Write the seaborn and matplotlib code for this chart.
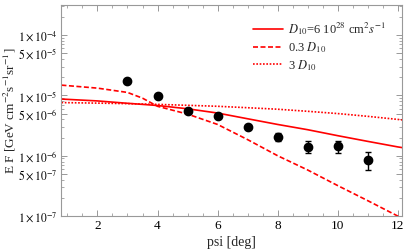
import numpy as np
import pandas as pd
import matplotlib
matplotlib.use("Agg")
import matplotlib.pyplot as plt
import matplotlib.ticker as mticker
import seaborn as sns

# data points (psi in deg, E F in GeV cm^-2 s^-1 sr^-1)
psi_pts = [3, 4, 5, 6, 7, 8, 9, 10, 11]
ef_pts = [1.75e-5, 9.6e-6, 5.6e-6, 4.6e-6, 3.0e-6, 2.07e-6, 1.41e-6, 1.45e-6, 8.6e-7]
ef_err = [1.0e-6, 6e-7, 3e-7, 2.5e-7, 2.5e-7, 3.0e-7, 3.2e-7, 3.2e-7, 2.8e-7]

# model curves
psi_grid = [0.8, 2, 3, 3.5, 4, 5, 6, 7, 8, 9, 10, 11, 12, 12.2]
ef_d10 = [8.7e-6, 8.1e-6, 7.4e-6, 7.1e-6, 6.8e-6, 6.0e-6, 5.1e-6, 4.1e-6, 3.3e-6,
          2.7e-6, 2.15e-6, 1.73e-6, 1.4e-6, 1.35e-6]
ef_03d10 = [1.48e-5, 1.32e-5, 1.12e-5, 9.0e-6, 6.6e-6, 4.9e-6, 3.3e-6, 1.85e-6, 1.0e-6,
            5.8e-7, 3.2e-7, 1.8e-7, 1.0e-7, 0.88e-7]
ef_3d10 = [7.6e-6, 7.45e-6, 7.3e-6, 7.2e-6, 7.1e-6, 6.85e-6, 6.6e-6, 6.25e-6, 5.9e-6,
           5.45e-6, 5.0e-6, 4.5e-6, 4.0e-6, 3.9e-6]

labels = [r"$D_{10}$=6 10$^{28}$ cm$^2$$s^{-1}$", r"0.3 $D_{10}$", r"3 $D_{10}$"]

sns.set_style("ticks")
plt.rcParams['font.family'] = ['Liberation Serif', 'DejaVu Serif']
plt.rcParams['mathtext.fontset'] = 'stix'

fig = plt.figure(figsize=(4.05, 2.49), dpi=100)
ax = fig.add_axes([0.151, 0.1325, 0.842, 0.8455])

curves = pd.DataFrame({
    'psi': psi_grid * 3,
    'ef': ef_d10 + ef_03d10 + ef_3d10,
    'model': [labels[0]] * len(psi_grid) + [labels[1]] * len(psi_grid) + [labels[2]] * len(psi_grid),
})
sns.lineplot(data=curves, x='psi', y='ef', hue='model', style='model',
             palette=['#ff0000'] * 3, dashes=[(None, None), (3, 1.5), (1, 1)],
             linewidth=1.2, ax=ax, legend=True, sort=False)

ax.errorbar(psi_pts, ef_pts, yerr=ef_err, fmt='o', color='black', ms=6,
            elinewidth=1, capsize=2, capthick=1, zorder=5)

ax.set_yscale('log')
ax.set_xlim(0.79, 12.15)
ax.set_ylim(1e-7, 3.1e-4)

ax.xaxis.set_major_locator(mticker.MultipleLocator(2))
ax.xaxis.set_minor_locator(mticker.MultipleLocator(0.5))
ax.yaxis.set_major_locator(mticker.FixedLocator([1e-7, 5e-7, 1e-6, 5e-6, 1e-5, 5e-5, 1e-4]))
ax.yaxis.set_minor_locator(mticker.LogLocator(base=10, subs=np.arange(2, 10)))
ax.yaxis.set_minor_formatter(mticker.NullFormatter())


def sci_fmt(v, pos):
    e = int(np.floor(np.log10(v) + 1e-9))
    m = v / 10 ** e
    return r"$%d\times10^{%d}$" % (round(m), e)


ax.yaxis.set_major_formatter(mticker.FuncFormatter(sci_fmt))

ax.tick_params(which='both', direction='in', top=True, right=True, colors='#888888',
               labelcolor='black')
ax.tick_params(axis='x', labelsize=9.5)
ax.tick_params(axis='y', labelsize=8.3)
ax.tick_params(which='major', length=4, width=0.6, pad=3)
ax.tick_params(which='minor', length=2, width=0.5)
for s in ax.spines.values():
    s.set_color('#999999')
    s.set_linewidth(0.8)

ax.set_xlabel("psi [deg]", fontsize=10)
ax.set_ylabel(r"E F [GeV cm$^{-2}$s$^{-1}$sr$^{-1}$]", fontsize=9.5)
ax.xaxis.set_label_coords(0.5, -0.095)
ax.yaxis.set_label_coords(-0.128, 0.5)

leg = ax.legend(loc='upper right', frameon=False, fontsize=9, handlelength=2.4,
                handletextpad=0.4, labelspacing=0.25, borderaxespad=0.5,
                bbox_to_anchor=(0.985, 0.985))

fig.savefig('out.png', dpi=100)
